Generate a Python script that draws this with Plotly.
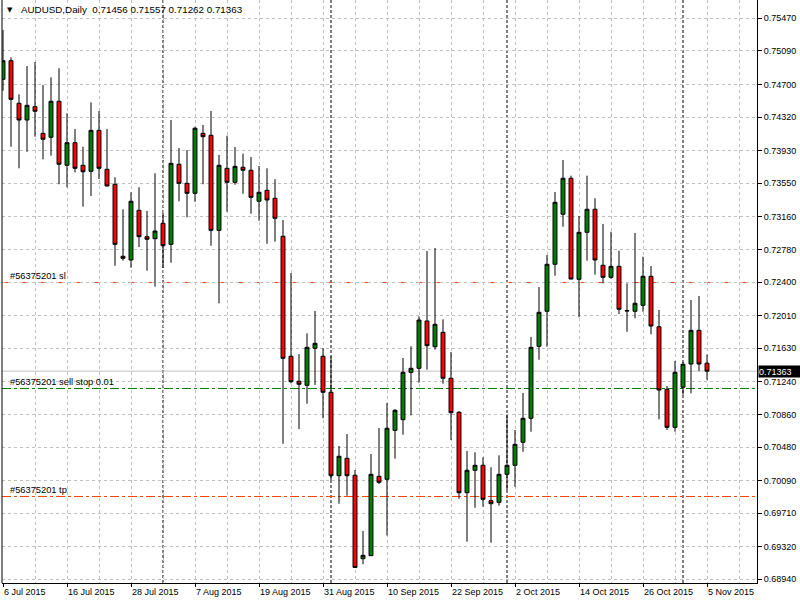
import pandas as pd
import plotly.graph_objects as go

# ---- data (AUDUSD daily) ----
dates = pd.bdate_range("2015-07-06", "2015-11-05")

open_ = [0.74760, 0.74976, 0.74481, 0.74286, 0.74441, 0.74131, 0.74085, 0.74504, 0.73759, 0.74022,
         0.73759, 0.73689, 0.74166, 0.73712, 0.73538, 0.72700, 0.72657, 0.73235, 0.72928, 0.72905,
         0.73084, 0.72839, 0.73771, 0.73549, 0.73433, 0.74131, 0.74108, 0.73002, 0.73724, 0.73561,
         0.73736, 0.73701, 0.73340, 0.73468, 0.73375, 0.72933, 0.71536, 0.71245, 0.71198, 0.71629,
         0.71536, 0.71117, 0.70146, 0.70348, 0.70151, 0.69180, 0.69215, 0.70139, 0.70104, 0.70674,
         0.70798, 0.71349, 0.71396, 0.71947, 0.71647, 0.71815, 0.71280, 0.70884, 0.69948, 0.70209,
         0.70267, 0.69855, 0.69836, 0.70162, 0.70267, 0.70535, 0.70814, 0.71652, 0.72060, 0.72607,
         0.73189, 0.73608, 0.72432, 0.72979, 0.73247, 0.72595, 0.72455, 0.72583, 0.72069, 0.72060,
         0.72129, 0.72467, 0.71880, 0.71152, 0.70709, 0.71175, 0.71446, 0.71838, 0.71456]
high = [0.75334, 0.75016, 0.74585, 0.74915, 0.74961, 0.74694, 0.74783, 0.74888, 0.74364, 0.74181,
        0.73975, 0.74492, 0.74391, 0.74181, 0.73619, 0.73247, 0.73445, 0.73503, 0.73227, 0.73666,
        0.73204, 0.74286, 0.73960, 0.73937, 0.74208, 0.74228, 0.74391, 0.73879, 0.74104, 0.73972,
        0.73894, 0.73856, 0.73751, 0.73724, 0.73596, 0.73122, 0.72505, 0.71562, 0.71803, 0.72063,
        0.71629, 0.71536, 0.70492, 0.70631, 0.70212, 0.69502, 0.70398, 0.70701, 0.70992, 0.70922,
        0.71516, 0.71652, 0.72001, 0.72761, 0.72796, 0.71966, 0.71586, 0.70899, 0.70433, 0.70418,
        0.70360, 0.70244, 0.70383, 0.70849, 0.70678, 0.71109, 0.71760, 0.72342, 0.72715, 0.73448,
        0.73821, 0.73638, 0.73169, 0.73638, 0.73375, 0.73076, 0.72986, 0.72765, 0.72385, 0.72971,
        0.72695, 0.72587, 0.72075, 0.71190, 0.71481, 0.71469, 0.72191, 0.72238, 0.71557]
low = [0.74627, 0.73975, 0.73724, 0.73917, 0.74092, 0.73829, 0.73871, 0.73538, 0.73503, 0.73677,
       0.73277, 0.73402, 0.73599, 0.73515, 0.72590, 0.72649, 0.72567, 0.72808, 0.72532, 0.72346,
       0.72564, 0.72625, 0.73340, 0.73154, 0.73335, 0.73538, 0.72823, 0.72153, 0.73219, 0.73533,
       0.73428, 0.73196, 0.73114, 0.72846, 0.72870, 0.70518, 0.71221, 0.70689, 0.70984, 0.71202,
       0.70814, 0.70096, 0.69820, 0.69913, 0.69075, 0.69115, 0.69212, 0.70049, 0.69450, 0.70344,
       0.70623, 0.70849, 0.71228, 0.71380, 0.71613, 0.71217, 0.70561, 0.69878, 0.69378, 0.69773,
       0.69785, 0.69366, 0.69797, 0.69979, 0.70018, 0.70425, 0.70658, 0.71496, 0.71647, 0.72474,
       0.73044, 0.72432, 0.71990, 0.72649, 0.72486, 0.72385, 0.72439, 0.72028, 0.71822, 0.71978,
       0.72055, 0.71792, 0.70802, 0.70678, 0.70658, 0.71089, 0.71105, 0.71365, 0.71262]
close = [0.74976, 0.74527, 0.74286, 0.74457, 0.74388, 0.74062, 0.74504, 0.73771, 0.74022, 0.73724,
         0.73684, 0.74166, 0.73724, 0.73518, 0.72839, 0.72676, 0.73340, 0.72928, 0.72898, 0.72994,
         0.72823, 0.73782, 0.73549, 0.73433, 0.74190, 0.74092, 0.73002, 0.73759, 0.73561, 0.73747,
         0.73701, 0.73386, 0.73445, 0.73355, 0.73142, 0.71512, 0.71240, 0.71210, 0.71640, 0.71687,
         0.71117, 0.70146, 0.70372, 0.70146, 0.69078, 0.69219, 0.70162, 0.70069, 0.70698, 0.70907,
         0.71349, 0.71396, 0.71958, 0.71659, 0.71908, 0.71280, 0.70879, 0.69948, 0.70209, 0.70267,
         0.69871, 0.69820, 0.70162, 0.70267, 0.70511, 0.70814, 0.71640, 0.72048, 0.72607, 0.73328,
         0.73608, 0.72435, 0.72979, 0.73247, 0.72657, 0.72455, 0.72583, 0.72083, 0.72064, 0.72153,
         0.72467, 0.71888, 0.71143, 0.70709, 0.71349, 0.71443, 0.71838, 0.71446, 0.71363]

y_tick_labels = ["0.75470", "0.75090", "0.74700", "0.74320", "0.73930", "0.73550", "0.73160",
                 "0.72780", "0.72400", "0.72010", "0.71630", "0.71240", "0.70860", "0.70480",
                 "0.70090", "0.69710", "0.69320", "0.68940"]
y_tick_vals = [float(s) for s in y_tick_labels]
x_label_every = 8

orders = [("#56375201 sl", 0.72395, "#FF4500"),
          ("#56375201 sell stop 0.01", 0.71161, "#008000"),
          ("#56375201 tp", 0.69904, "#FF4500")]

symbol = "AUDUSD,Daily"
y_range = [0.68897, 0.75683]
x_range = [-0.125, 94.25]

# ---- figure ----
idx = list(range(len(open_)))
FONT = "Liberation Sans, Arial, sans-serif"
GRID = "#C0C0C0"

fig = go.Figure(go.Candlestick(
    x=idx, open=open_, high=high, low=low, close=close,
    increasing=dict(fillcolor="#008000", line=dict(color="black", width=1)),
    decreasing=dict(fillcolor="#FF0000", line=dict(color="black", width=1)),
    whiskerwidth=0, showlegend=False, hoverinfo="skip"))

tickvals = idx[::x_label_every]
ticktext = [f"{dates[i].day} {dates[i].strftime('%b %Y')}" for i in tickvals]
minor_vals = [v + x_label_every / 2 for v in range(0, 96, x_label_every)]

fig.update_layout(
    width=800, height=600,
    margin=dict(l=2, r=43, t=0, b=17),
    paper_bgcolor="white", plot_bgcolor="white",
    font=dict(family=FONT, size=9, color="black"),
    showlegend=False,
    xaxis=dict(range=x_range, tickmode="array", tickvals=tickvals, ticktext=ticktext,
               ticks="outside", ticklen=3, tickcolor="black",
               ticklabelposition="outside right",
               showline=True, linecolor="black", linewidth=1,
               showgrid=True, gridcolor=GRID, gridwidth=1, griddash="3px,3px",
               zeroline=False, rangeslider=dict(visible=False), fixedrange=True,
               minor=dict(tickmode="array", tickvals=minor_vals, showgrid=True,
                          gridcolor=GRID, gridwidth=1, griddash="3px,3px", ticks="")),
    yaxis=dict(range=y_range, side="right", tickmode="array", tickvals=y_tick_vals,
               ticktext=y_tick_labels, ticks="outside", ticklen=4, tickcolor="black",
               showline=True, linecolor="black", linewidth=1,
               showgrid=True, gridcolor=GRID, gridwidth=1, griddash="3px,3px",
               zeroline=False, fixedrange=True),
)

shapes = []
# left border
shapes.append(dict(type="line", xref="paper", yref="paper", x0=0, x1=0, y0=0, y1=1,
                   line=dict(color="black", width=1)))
# monthly period separators
for i in range(1, len(dates)):
    if dates[i].month != dates[i - 1].month:
        shapes.append(dict(type="line", xref="x", yref="paper", x0=i, x1=i, y0=0, y1=1,
                           layer="below", line=dict(color="black", width=1, dash="3px,2px")))
# bid line
shapes.append(dict(type="line", xref="paper", yref="y", x0=0, x1=1, y0=close[-1], y1=close[-1],
                   layer="below", line=dict(color="#C0C0C0", width=1)))
# order lines
for name, price, col in orders:
    shapes.append(dict(type="line", xref="paper", yref="y", x0=0, x1=1, y0=price, y1=price,
                       layer="below", line=dict(color=col, width=1, dash="9px,3px,3px,3px")))
fig.update_layout(shapes=shapes)

annotations = []
for name, price, col in orders:
    annotations.append(dict(text=name, xref="paper", yref="y", x=0.008, y=price,
                            xanchor="left", yanchor="bottom", showarrow=False, yshift=-1,
                            font=dict(family=FONT, size=9.3, color="black")))
annotations.append(dict(text="▼", xref="paper", yref="paper", x=0.004, y=0.9835,
                        xanchor="left", yanchor="middle", showarrow=False,
                        font=dict(family="DejaVu Sans", size=7, color="black")))
hdr = f"{symbol}\u00a0\u00a0{open_[-1]:.5f} {high[-1]:.5f} {low[-1]:.5f} {close[-1]:.5f}"
annotations.append(dict(text=hdr, xref="paper", yref="paper", x=0.0225, y=0.9835,
                        xanchor="left", yanchor="middle", showarrow=False,
                        font=dict(family=FONT, size=9.8, color="black")))
annotations.append(dict(text=f"{close[-1]:.5f}", xref="paper", yref="y", x=1, y=close[-1],
                        xanchor="left", yanchor="middle", xshift=1, showarrow=False,
                        bgcolor="black", borderpad=0, width=42, height=11, align="left",
                        font=dict(family=FONT, size=9, color="white")))
fig.update_layout(annotations=annotations)

fig.write_html("out.html")
